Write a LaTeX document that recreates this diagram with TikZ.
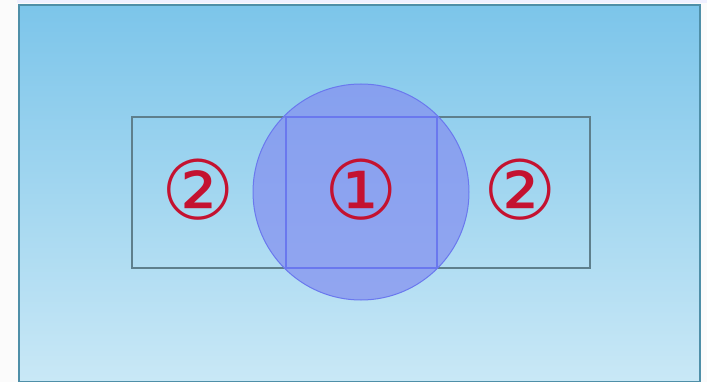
\documentclass[tikz,border=0pt]{standalone}
\usepackage{fontspec}
\newfontfamily\symfont{DejaVu Sans}
\definecolor{topblue}{HTML}{7CC5EA}
\definecolor{botblue}{HTML}{C9E8F6}
\definecolor{frame}{HTML}{4F8FA8}
\definecolor{rectline}{HTML}{5E7F8C}
\definecolor{circfill}{HTML}{8592F0}
\definecolor{circline}{HTML}{6A78EE}
\definecolor{numred}{HTML}{C41230}
\tikzset{
  panel/.style={draw=frame, line width=2pt, top color=topblue, bottom color=botblue},
  outline/.style={draw=rectline, line width=1.2pt},
  disc/.style={fill=circfill, fill opacity=0.75, draw=circline, line width=1pt},
  inner/.style={draw=circline, line width=1.2pt},
  num/.style={text=numred, font=\symfont\fontsize{82}{84}\selectfont, inner sep=0pt}
}
\begin{document}
\begin{tikzpicture}[x=1pt,y=-1pt]
\useasboundingbox (0,0) rectangle (707,382);
\fill[white!97!gray] (0,0) rectangle (707,382);
\fill[blue!6] (17,0) rectangle (707,3);
\node[panel, minimum width=681pt, minimum height=377pt, anchor=north west, inner sep=0pt] (bg) at (18,4) {};
\node[outline, minimum width=458pt, minimum height=151pt, inner sep=0pt] (band) at (361,192.5) {};
\node[disc, circle, minimum size=216pt, inner sep=0pt] (circ) at (361,192) {};
\node[inner, minimum width=151pt, minimum height=151pt, inner sep=0pt] (sq) at (361.5,192.5) {};
\node[num] (n1) at (361,190) {①};
\node[num] (n2l) at (198,190) {②};
\node[num] (n2r) at (520,190) {②};
\end{tikzpicture}
\end{document}
